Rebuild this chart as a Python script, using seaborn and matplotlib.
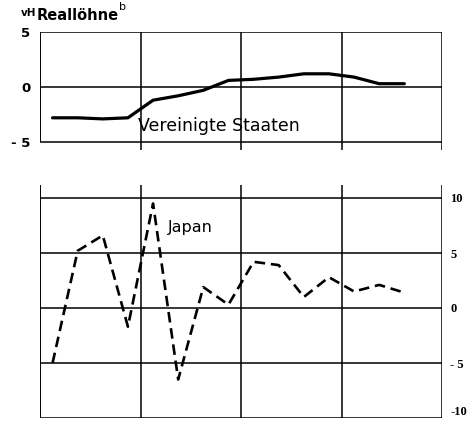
import numpy as np
import pandas as pd
import matplotlib
matplotlib.use("Agg")
import matplotlib.pyplot as plt
import seaborn as sns

# quarterly observations, x in quarters (centre of quarter)
quarters = np.arange(15) + 0.5
us_wages = [-2.8, -2.8, -2.9, -2.8, -1.2, -0.8, -0.3, 0.6, 0.7, 0.9, 1.2, 1.2, 0.9, 0.3, 0.3]
japan_wages = [-5.0, 5.2, 6.6, -1.7, 9.5, -6.5, 1.9, 0.3, 4.2, 3.9, 1.0, 2.8, 1.5, 2.1, 1.4]
top_ticks = [5, 0, -5]
top_labels = ["5", "0", "- 5"]
bottom_ticks = [10, 5, 0, -5, -10]
bottom_labels = ["10", "5", "0", "- 5", "-10"]
year_lines = [4, 8, 12, 16]

sns.set_style("white")
plt.rcParams["font.family"] = ["DejaVu Sans"]
plt.rcParams["text.color"] = "black"
plt.rcParams["ytick.color"] = "black"

W, H = 477, 422
fig = plt.figure(figsize=(W / 100, H / 100), dpi=100)


def px_axes(x0, x1, ytop, ybot):
    return fig.add_axes([x0 / W, 1 - ybot / H, (x1 - x0) / W, (ybot - ytop) / H])


df_us = pd.DataFrame({"q": quarters, "v": us_wages})
df_jp = pd.DataFrame({"q": quarters, "v": japan_wages})

# --- top panel: United States ---
ax1 = px_axes(40, 442, 32, 150)
ax1.set_xlim(0, 16)
ax1.set_ylim(-5 - 8 / 11, 5)
for s in ax1.spines.values():
    s.set_visible(False)
for y in top_ticks:
    ax1.axhline(y, color="black", lw=1.1)
ax1.vlines([0], -5, 5, color="black", lw=1.4)
ax1.vlines(year_lines, -5 - 8 / 11, 5, color="black", lw=1.1)
sns.lineplot(data=df_us, x="q", y="v", ax=ax1, color="black", lw=2.3)
ax1.set_xticks([])
ax1.set_yticks(top_ticks, top_labels)
ax1.tick_params(axis="y", length=0, pad=7, labelsize=9.5)
for lab in ax1.get_yticklabels():
    lab.set_fontweight("bold")
ax1.set_xlabel("")
ax1.set_ylabel("")
ax1.text(3.9, -3.55, "Vereinigte Staaten", fontsize=12.5, ha="left", va="center")

fig.text(21 / W, 1 - 13 / H, "vH", fontsize=7.5, fontweight="bold", ha="left", va="center")
fig.text(37 / W, 1 - 15 / H, "Reallöhne", fontsize=10.5, fontweight="bold",
         ha="left", va="center")
fig.text(119 / W, 1 - 7 / H, "b", fontsize=8, ha="left", va="center")

# --- bottom panel: Japan ---
ax2 = px_axes(40, 442, 185, 418)
ax2.set_xlim(0, 16)
ax2.set_ylim(-10, 10 + 13 / 11)
for s in ax2.spines.values():
    s.set_visible(False)
for y in bottom_ticks:
    ax2.axhline(y, color="black", lw=1.1)
ax2.vlines([0], -10, 10 + 13 / 11, color="black", lw=1.4)
ax2.vlines(year_lines, -10, 10 + 13 / 11, color="black", lw=1.1)
sns.lineplot(data=df_jp, x="q", y="v", ax=ax2, color="black", lw=1.9)
ax2.lines[-1].set_dashes([4, 2.2])
ax2.set_xticks([])
ax2.yaxis.tick_right()
ax2.set_yticks(bottom_ticks, bottom_labels)
ax2.tick_params(axis="y", length=0, pad=6, labelsize=9)
for lab in ax2.get_yticklabels():
    lab.set_family("Liberation Serif")
    lab.set_fontweight("bold")
ax2.get_yticklabels()[-1].set_va("bottom")
ax2.set_xlabel("")
ax2.set_ylabel("")
ax2.text(5.1, 7.3, "Japan", fontsize=11.5, ha="left", va="center")

fig.savefig("out.png", dpi=100)
